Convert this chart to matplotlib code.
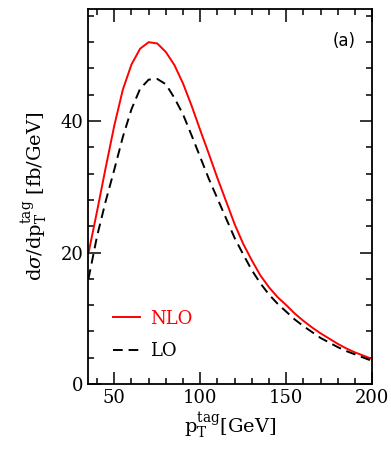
import numpy as np
import matplotlib
matplotlib.use("Agg")
import matplotlib.pyplot as plt
from matplotlib.ticker import MultipleLocator

plt.rcParams['font.family'] = 'DejaVu Serif'
plt.rcParams['mathtext.fontset'] = 'dejavuserif'

# pT tag [GeV]
pt = [35, 40, 45, 50, 55, 60, 65, 70, 75, 80, 85, 90, 95, 100, 105, 110, 115,
      120, 125, 130, 135, 140, 145, 150, 155, 160, 165, 170, 175, 180, 185,
      190, 195, 200]
# d sigma / d pT [fb/GeV]
nlo = [19.9, 26.3, 32.9, 39.3, 44.8, 48.6, 51.0, 52.0, 51.8, 50.5, 48.5,
       45.7, 42.3, 38.6, 35.0, 31.3, 27.8, 24.3, 21.3, 18.8, 16.5, 14.7,
       13.2, 12.0, 10.7, 9.6, 8.6, 7.7, 6.9, 6.1, 5.4, 4.8, 4.3, 3.8]
lo = [16.0, 22.5, 27.8, 32.6, 37.6, 41.8, 44.9, 46.3, 46.4, 45.6, 43.5,
      41.0, 37.8, 34.5, 31.2, 28.2, 25.2, 22.2, 19.7, 17.3, 15.3, 13.6,
      12.2, 11.0, 9.8, 8.8, 7.9, 7.0, 6.3, 5.6, 5.0, 4.5, 4.0, 3.5]

fig = plt.figure(figsize=(3.91, 4.49), dpi=100)
ax = fig.add_axes([0.2263, 0.1448, 0.7257, 0.8345])

ax.plot(pt, nlo, color='red', lw=1.4, label='NLO')
ax.plot(pt, lo, color='black', lw=1.4, ls=(0, (5, 3)), label='LO')

ax.set_xlim(35, 200)
ax.set_ylim(0, 57)
ax.xaxis.set_major_locator(MultipleLocator(50))
ax.xaxis.set_minor_locator(MultipleLocator(10))
ax.yaxis.set_major_locator(MultipleLocator(20))
ax.yaxis.set_minor_locator(MultipleLocator(4))
ax.tick_params(which='both', direction='in', top=True, right=True, width=1.1,
               labelsize=13)
ax.tick_params(which='major', length=9)
ax.tick_params(which='minor', length=4)
for s in ax.spines.values():
    s.set_linewidth(1.3)

ax.set_xlabel(r'$\mathrm{p_T^{tag}[GeV]}$', fontsize=14, labelpad=2)
ax.set_ylabel(r'$\mathrm{d}\sigma/\mathrm{dp_T^{tag}}\ \mathrm{[fb/GeV]}$',
              fontsize=14, labelpad=8)

leg = ax.legend(loc='lower left', bbox_to_anchor=(0.03, 0.02), frameon=False,
                fontsize=13, handlelength=1.5, handletextpad=0.55,
                labelspacing=0.8)
leg.get_texts()[0].set_color('red')

ax.text(0.9, 0.915, '(a)', transform=ax.transAxes, fontsize=12,
        family='DejaVu Sans', ha='center', va='center')

fig.savefig('out.png', dpi=100)
